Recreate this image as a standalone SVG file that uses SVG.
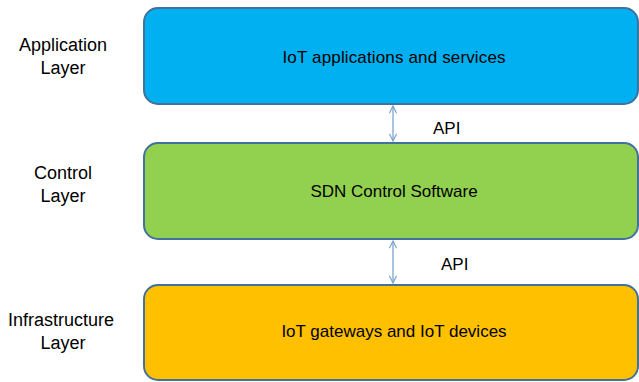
<svg xmlns="http://www.w3.org/2000/svg" width="639" height="382" viewBox="0 0 639 382">
  <style>
    .layer { stroke: #41719C; stroke-width: 2; }
    .title { font-family: "Liberation Sans", Arial, sans-serif; font-size: 17px; fill: #000; text-anchor: middle; }
    .side { font-family: "Liberation Sans", Arial, sans-serif; font-size: 18px; fill: #000; text-anchor: middle; }
    .api { font-family: "Liberation Sans", Arial, sans-serif; font-size: 17px; fill: #000; }
    .link { stroke: #7BA3CF; stroke-width: 1.3; fill: none; marker-start: url(#chev); marker-end: url(#chev); }
  </style>
  <defs>
    <marker id="chev" viewBox="0 0 10 10" refX="9" refY="5" markerWidth="9" markerHeight="9" orient="auto-start-reverse" markerUnits="userSpaceOnUse">
      <path d="M1,1 L9,5 L1,9" fill="none" stroke="#7BA3CF" stroke-width="1.3"/>
    </marker>
  </defs>
  <rect width="639" height="382" fill="#fff"/>

  <!-- side labels -->
  <g id="label-application">
    <text class="side" x="63" y="51">Application</text>
    <text class="side" x="63" y="74">Layer</text>
  </g>
  <g id="label-control">
    <text class="side" x="63" y="179">Control</text>
    <text class="side" x="63" y="202">Layer</text>
  </g>
  <g id="label-infrastructure">
    <text class="side" x="61" y="326">Infrastructure</text>
    <text class="side" x="63" y="349">Layer</text>
  </g>

  <!-- layers -->
  <g id="application-layer">
    <rect class="layer" x="144" y="8" width="494" height="96" rx="14" fill="#00B0F0"/>
    <text class="title" x="394" y="63" textLength="223">IoT applications and services</text>
  </g>
  <g id="control-layer">
    <rect class="layer" x="144" y="143" width="494" height="96" rx="14" fill="#92D050"/>
    <text class="title" x="394" y="197">SDN Control Software</text>
  </g>
  <g id="infrastructure-layer">
    <rect class="layer" x="144" y="285" width="494" height="95" rx="14" fill="#FFC000"/>
    <text class="title" x="394" y="337">IoT gateways and IoT devices</text>
  </g>

  <!-- connectors -->
  <g id="connectors">
    <line class="link" x1="393" y1="106" x2="393" y2="141"/>
    <text class="api" x="433" y="134">API</text>
    <line class="link" x1="393" y1="241" x2="393" y2="283"/>
    <text class="api" x="441" y="270">API</text>
  </g>
</svg>
